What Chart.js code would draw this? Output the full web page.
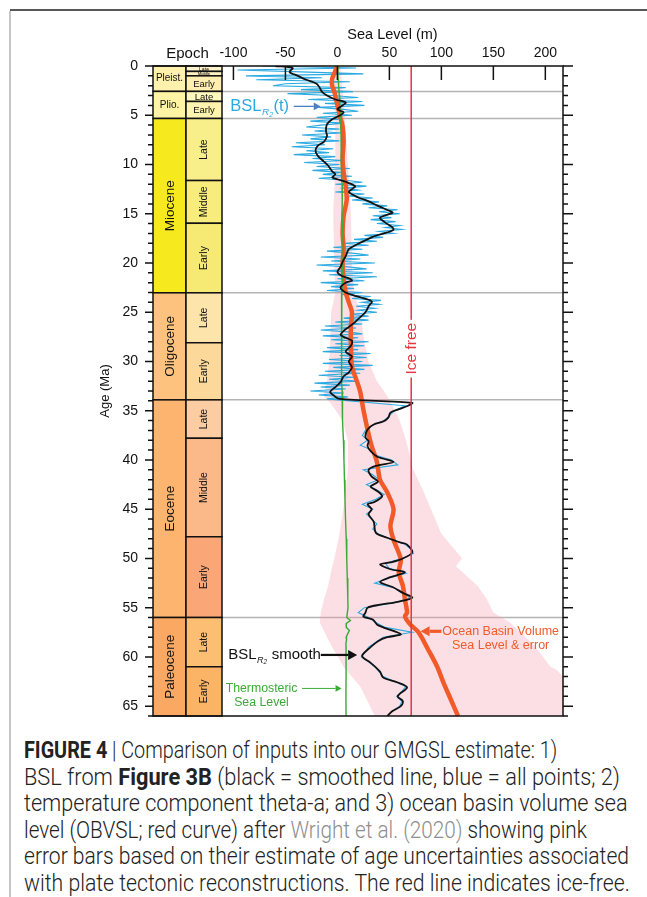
<!DOCTYPE html>
<html>
<head>
<meta charset="utf-8">
<title>Sea level inputs – Cenozoic</title>
<script src="https://cdn.jsdelivr.net/npm/chart.js@4.4.0/dist/chart.umd.min.js"></script>
<style>
  html, body { margin: 0; padding: 0; background: #fff; }
  body { width: 647px; height: 897px; position: relative; overflow: hidden; }
  #frameTop { position: absolute; left: 10px; top: 9px; width: 637px; height: 2px; background: #585858; }
  #frameLeft { position: absolute; left: 9px; top: 11px; width: 2px; height: 886px; background: #c6c6c6; }
  #chart { position: absolute; left: 0; top: 0; }
  #caption { position: absolute; left: 24px; top: 738px; font-family: Roboto, 'Liberation Sans', sans-serif;
             font-weight: 300; font-size: 23px; line-height: 26.6px; color: #222; }
  #caption div { white-space: nowrap; transform-origin: 0 50%; }
  #caption .l1 { transform: scaleX(0.86); }
  #caption .l2 { transform: scaleX(0.947); }
  #caption .l3 { transform: scaleX(0.939); }
  #caption .l4 { transform: scaleX(0.90); }
  #caption .l5 { transform: scaleX(0.915); }
  #caption .l6 { transform: scaleX(0.922); }
  #caption b { font-weight: 700; }
  #caption .ref { color: #8e8e8e; }
</style>
</head>
<body>
<div id="frameTop"></div>
<div id="frameLeft"></div>
<canvas id="chart" width="647" height="730"></canvas>
<div id="caption">
  <div class="l1"><b>FIGURE 4</b> | Comparison of inputs into our GMGSL estimate: 1)</div>
  <div class="l2">BSL from <b>Figure 3B</b> (black = smoothed line, blue = all points; 2)</div>
  <div class="l3">temperature component theta-a; and 3) ocean basin volume sea</div>
  <div class="l4">level (OBVSL; red curve) after <span class="ref">Wright et al. (2020)</span> showing pink</div>
  <div class="l5">error bars based on their estimate of age uncertainties associated</div>
  <div class="l6">with plate tectonic reconstructions. The red line indicates ice-free.</div>
</div>
<script>
// ---- axes ----
const AGE_MIN = 0, AGE_MAX = 66;
const SL_MIN = -111, SL_MAX = 217;
const seaLevelTicks = [-100, -50, 0, 50, 100, 150, 200];
const ageTicks = [0, 5, 10, 15, 20, 25, 30, 35, 40, 45, 50, 55, 60, 65];
const ICE_FREE = 71;

// ---- geologic time scale (Ma) ----
const epochNames = ['Pleist.', 'Plio.', 'Miocene', 'Oligocene', 'Eocene', 'Paleocene'];
const epochTop   = [0, 2.58, 5.33, 23.03, 33.9, 56];
const epochBase  = [2.58, 5.33, 23.03, 33.9, 56, 66];
const epochColors = ['#FEF1AE', '#FFF4A3', '#F6EA1E', '#FDC27E', '#FCB46E', '#FBA862'];
const stageNames = ['Late', 'Middle', 'Early', 'Late', 'Early', 'Late', 'Middle', 'Early',
                    'Late', 'Early', 'Late', 'Middle', 'Early', 'Late', 'Early'];
const stageTop   = [0, 0.55, 1.0, 2.58, 3.6, 5.33, 11.63, 15.97, 23.03, 28.1, 33.9, 37.8, 47.8, 56, 61];
const stageBase  = [0.55, 1.0, 2.58, 3.6, 5.33, 11.63, 15.97, 23.03, 28.1, 33.9, 37.8, 47.8, 56, 61, 66];
const stageColors = ['#FFF2CC', '#FFF1C2', '#FFEEB0', '#FFF8BE', '#FFF3B0', '#F8EF8A', '#F7EC7C', '#F6E974',
                     '#FDE4AB', '#FDD89B', '#FCCDA2', '#FBB98A', '#FAA676', '#FCBE72', '#FBB466'];
const epochBoundaries = [2.58, 5.33, 23.03, 33.9, 56];

// ---- BSL, all points (blue) ----
const blueAge = [
  0.0,0.2,0.4,0.6,0.8,1.0,1.2,1.4,1.6,1.8, 2.0,2.2,2.4,2.6,2.8,3.0,3.2,3.4,3.6,3.8,
  4.0,4.2,4.4,4.6,4.8,5.0,5.2,5.4,5.6,5.8, 6.0,6.2,6.4,6.6,6.8,7.0,7.2,7.4,7.6,7.8,
  8.0,8.2,8.4,8.6,8.8,9.0,9.2,9.4,9.6,9.8, 10.0,10.2,10.4,10.6,10.8,11.0,11.2,11.4,11.6,11.8,
  12.0,12.2,12.4,12.6,12.8,13.0,13.2,13.4,13.6,13.8, 14.0,14.2,14.4,14.6,14.8,15.0,15.2,15.4,15.6,15.8,
  16.0,16.2,16.4,16.6,16.8,17.0,17.2,17.4,17.6,17.8, 18.0,18.2,18.4,18.6,18.8,19.0,19.2,19.4,19.6,19.8,
  20.0,20.2,20.4,20.6,20.8,21.0,21.2,21.4,21.6,21.8, 22.0,22.2,22.4,22.6,22.8,23.0,23.2,23.4,23.6,23.8,
  24.0,24.2,24.4,24.6,24.8,25.0,25.2,25.4,25.6,25.8, 26.0,26.2,26.4,26.6,26.8,27.0,27.2,27.4,27.6,27.8,
  28.0,28.2,28.4,28.6,28.8,29.0,29.2,29.4,29.6,29.8, 30.0,30.2,30.4,30.6,30.8,31.0,31.2,31.4,31.6,31.8,
  32.0,32.2,32.4,32.6,32.8,33.0,33.2,33.4,33.6,33.8,
  34.5,35.0,35.5,36.0,36.5,37.0,37.5,38.0,38.5,39.0, 39.5,40.0,40.5,41.0,41.5,42.0,42.5,43.0,43.5,44.0,
  44.5,45.0,45.5,46.0,46.5,47.0,47.5,48.0,48.5,49.0, 49.5,50.0,50.5,51.0,51.5,52.0,52.5,53.0,53.5,54.0,
  54.5,55.0,55.5,56.0,56.5,57.0,57.5,58.0,58.5,59.0, 59.5,60.0,60.5,61.0,61.5,62.0,62.5,63.0,63.5,64.0,
  64.5,65.0,65.5,66.0
];
const blueSL = [
  -72,18,-96,-35,25,-88,-15,-78,12,-50, -62,8,-35,15,-48,-5,20,-28,24,-12,
  26,-18,6,20,-14,14,-20,3,-26,6, -16,-30,2,-22,4,-34,-6,-26,2,-40,
  -12,-44,-4,-30,-8,-42,-2,-24,6,-32, 2,-20,12,-24,4,-14,14,-18,8,24,
  -2,28,6,20,-2,26,10,34,14,40, 24,48,30,58,40,60,34,52,32,56,
  38,60,46,62,40,54,26,44,16,38, 6,30,-4,24,-10,14,30,-16,22,-6,
  36,-20,10,28,-14,34,-8,38,0,26, -16,20,-6,16,-10,24,4,32,14,42,
  24,40,18,36,20,38,12,30,6,30, -2,24,-12,18,-16,10,24,-14,20,-6,
  30,-2,26,-10,20,-14,32,2,28,-8, 24,-14,34,-4,26,-12,22,-18,16,-8,
  20,-22,12,-16,8,-26,6,-18,10,-10,
  65,55,50,45,33,27,24,29,22,33, 36,52,58,25,34,40,28,37,45,37,
  24,34,28,33,38,34,39,50,64,70, 73,62,46,50,66,49,36,55,62,70,
  55,26,20,30,37,46,72,44,37,30, 27,23,30,36,40,44,55,66,62,57,
  62,60,53,48
];

// ---- BSL smoothed (black) ----
const blackAge = [
  0,0.2,0.6,1.0,1.4,1.8,2.2,2.6,3.0,3.4, 3.7,4.0,4.4,4.7,5.1,5.4,5.9,6.6,7.1,7.7,
  8.1,8.6,9.1,9.7,10.1,10.7,11.0,11.3,11.5,11.8, 12.2,12.5,12.8,13.3,13.7,14.2,14.7,14.9,15.4,15.9,
  16.3,16.6,16.9,17.3,17.6,18.1,18.6,19.3,19.9,20.4, 20.9,21.3,21.6,21.8,22.0,22.5,23.0,23.4,23.9,24.4,
  25.0,25.5,26.0,26.5,26.9,27.3,27.6,27.9,28.4,29.0, 29.5,30.0,30.6,31.1,31.5,32.1,32.6,33.1,33.5,33.8,
  34.2,34.5,34.9,35.2,35.7,36.1,36.4,36.9,37.7,38.1, 38.6,39.1,39.7,40.2,40.6,41.0,41.7,42.2,42.7,43.2,
  43.7,44.3,44.5,45.0,45.5,46.3,47.4,47.9,48.4,48.6, 49.4,50.1,50.4,50.6,51.1,51.4,51.9,52.4,52.9,53.5,
  54.0,54.4,54.7,55.0,55.5,55.9,56.2,56.7,57.0,57.7, 58.0,58.4,59.0,59.8,60.1,60.6,61.5,62.1,62.6,63.1,
  64.0,64.5,65.0,65.5,66.0
];
const blackSL = [
  -60,-43,-46,-38,-30,-20,-17,-15,-10,-2, 8,5,0,6,1,-5,-10,-11,-10,-13,
  -19,-21,-19,-13,-9,-5,-2,-5,0,9, 17,14,11,19,29,39,50,53,41,46,
  52,54,48,35,29,19,11,8,5,3, 0,4,12,14,8,3,8,19,33,30,
  27,22,17,11,6,3,8,14,13,8, 14,11,14,11,6,3,-2,-7,-3,2,
  72,68,58,51,49,44,35,29,27,30, 29,32,39,54,37,30,33,39,32,39,
  43,35,29,33,30,35,37,48,61,67, 72,61,51,41,51,65,51,41,53,63,
  72,58,41,29,27,25,34,38,44,61, 48,39,32,24,25,32,41,44,58,67,
  58,63,61,53,48
];

// ---- thermosteric sea level (green) ----
const greenAge = [
  0,1,2,3,4,5,6,7,8,9, 10,11,12,13,14,15,16,17,18,19, 20,21,22,23,24,25,26,27,28,29,
  30,31,32,33,34, 36,38,40,42,44,46,48,50,52,54,
  55,56,56.3,56.6,57,57.3,58,58.3,58.6,59,60,62,64,66
];
const greenSL = [
  0,0.5,1.2,1.8,2.3,2.8,3.2,3.5,3.6,3.8, 4.0,4.2,4.5,4.7,4.6,4.4,4.8,5.2,5.4,5.6,
  5.3,4.9,4.6,4.3,4.0,3.8,3.9,4.0,3.9,4.1, 4.2,4.0,4.3,4.5,4.6,
  5.2,5.8,6.3,6.8,7.3,7.8,8.5,9.0,9.5,10.0,
  10.2,9.0,12.5,8.6,8.5,11.5,8.4,8.8,8.2,8.3,8.4,8.3,8.2,8.3
];

// ---- ocean basin volume sea level (red) and its error envelope ----
const redAge = [
  0,0.5,1.3,2.0,2.6,3.5,4.4,5.3,6.1,7.7, 9.4,10.8,12.2,13.5,14.2,15.2,16.9,18.6,20.0,21.6,
  23.0,24.0,25.0,26.4,28.4,30.5,32.1,33.1,34.9,36.9, 38.6,40.2,42.0,43.3,45.0,46.7,48.1,50.1,51.4,52.8,
  54.2,55.5,55.9,56.7,57.5,59.2,61.0,62.6,64.3,66.0
];
const redSL = [
  0,-2,-5,-5,-3,-1,1,3,5,6, 5,6,8,9,8,6,5,6,5,6,
  8,11,14,13,13,14,19,22,25,29, 33,38,41,48,54,51,54,61,59,63,
  65,67,65,70,78,87,96,102,109,116
];
const bandAge  = [0,5,10,15,20,23,25,28,30,32, 33.5,34.3,36,38,41,43,45.5,47.5,50,50.8, 52.8,54.2,55.5,56.5,58.2,59.2,61,61.3,63,66];
const bandLow  = [-3,-2,-2,-4,-3,-2,-6,-7,-8,-10, -13,-6,5,10,10,8,5,2,-3,-5, -9,-13,-16,-17,-9,-4,6,8,22,36];
const bandHigh = [3,7,10,13,14,16,22,26,30,38, 48,52,60,66,73,82,92,100,120,114, 135,144,150,166,183,192,205,211,225,245];

// ---- build point lists ----
const pts = (ages, vals) => ages.map((a, i) => ({ x: vals[i], y: a }));
const bandShape = pts(bandAge, bandLow).concat(pts(bandAge, bandHigh).reverse());
const iceFreeLine = [{ x: ICE_FREE, y: AGE_MIN }, { x: ICE_FREE, y: AGE_MAX }];

const FONT = "'Liberation Sans', Arial, Helvetica, sans-serif";
Chart.defaults.font.family = FONT;
Chart.defaults.color = '#111';

function arrow(ctx, x1, y1, x2, y2, color, lw, head) {
  const ang = Math.atan2(y2 - y1, x2 - x1);
  const bx = x2 - head * Math.cos(ang), by = y2 - head * Math.sin(ang);
  ctx.strokeStyle = color; ctx.fillStyle = color; ctx.lineWidth = lw;
  ctx.beginPath(); ctx.moveTo(x1, y1); ctx.lineTo(bx, by); ctx.stroke();
  const w = head * 0.55;
  ctx.beginPath();
  ctx.moveTo(x2, y2);
  ctx.lineTo(bx - w * Math.sin(ang), by + w * Math.cos(ang));
  ctx.lineTo(bx + w * Math.sin(ang), by - w * Math.cos(ang));
  ctx.closePath(); ctx.fill();
}

// BSL with italic R2 subscript, left-aligned at (px, py)
function bslLabel(ctx, px, py, size, color, tail) {
  ctx.fillStyle = color; ctx.textBaseline = 'middle'; ctx.textAlign = 'left';
  ctx.font = size + 'px ' + FONT;
  ctx.fillText('BSL', px, py);
  let cx = px + ctx.measureText('BSL').width + 0.5;
  ctx.font = 'italic ' + (size * 0.6) + 'px ' + FONT;
  ctx.fillText('R', cx, py + size * 0.38);
  const rw = ctx.measureText('R').width;
  ctx.font = 'italic ' + (size * 0.42) + 'px ' + FONT;
  ctx.fillText('2', cx + rw, py + size * 0.5);
  cx += rw + ctx.measureText('2').width + 0.5;
  ctx.font = size + 'px ' + FONT;
  ctx.fillText(tail, cx, py);
  return cx + ctx.measureText(tail).width;
}

const geoPlugin = {
  id: 'geoColumn',
  beforeDatasetsDraw(chart) {
    const { ctx, chartArea: a, scales: { y } } = chart;
    ctx.save();
    ctx.strokeStyle = '#b4b4b4'; ctx.lineWidth = 1.5;
    epochBoundaries.forEach(b => {
      const py = y.getPixelForValue(b);
      ctx.beginPath(); ctx.moveTo(a.left, py); ctx.lineTo(a.right, py); ctx.stroke();
    });
    ctx.restore();
  },
  afterDraw(chart) {
    const { ctx, chartArea: a, scales: { x, y, ts } } = chart;
    const c0 = ts.left, c2 = ts.right, c1 = c0 + 33;
    ctx.save();

    // epoch column
    ctx.lineWidth = 1.5; ctx.strokeStyle = '#111';
    epochNames.forEach((name, i) => {
      const t = y.getPixelForValue(epochTop[i]), b = y.getPixelForValue(epochBase[i]);
      ctx.fillStyle = epochColors[i];
      ctx.fillRect(c0, t, c1 - c0, b - t);
      ctx.strokeRect(c0, t, c1 - c0, b - t);
      ctx.fillStyle = '#111'; ctx.textAlign = 'center'; ctx.textBaseline = 'middle';
      if (i < 2) {
        ctx.font = '10px ' + FONT;
        ctx.fillText(name, (c0 + c1) / 2, (t + b) / 2);
      } else {
        ctx.save();
        ctx.translate((c0 + c1) / 2 + 0.5, (t + b) / 2);
        ctx.rotate(-Math.PI / 2);
        ctx.font = '13.5px ' + FONT;
        ctx.fillText(name, 0, 0);
        ctx.restore();
      }
    });

    // stage column
    stageNames.forEach((name, i) => {
      const t = y.getPixelForValue(stageTop[i]), b = y.getPixelForValue(stageBase[i]);
      ctx.fillStyle = stageColors[i];
      ctx.fillRect(c1, t, c2 - c1, b - t);
      ctx.strokeRect(c1, t, c2 - c1, b - t);
      ctx.fillStyle = '#111'; ctx.textAlign = 'center'; ctx.textBaseline = 'middle';
      if (i < 5) {
        const fs = Math.min(9.5, (b - t) * 0.95);
        ctx.font = fs + 'px ' + FONT;
        ctx.fillText(name, (c1 + c2) / 2, (t + b) / 2 + 0.5);
      } else {
        ctx.save();
        ctx.translate((c1 + c2) / 2 + 0.5, (t + b) / 2);
        ctx.rotate(-Math.PI / 2);
        ctx.font = '10.5px ' + FONT;
        ctx.fillText(name, 0, 0);
        ctx.restore();
      }
    });

    // plot frame
    ctx.strokeStyle = '#111'; ctx.lineWidth = 1.5;
    ctx.beginPath();
    ctx.moveTo(c0, a.top); ctx.lineTo(a.right, a.top);
    ctx.lineTo(a.right, a.bottom); ctx.lineTo(c0, a.bottom);
    ctx.stroke();

    // age ticks (outward on both sides, 1 Ma minor / 5 Ma major)
    for (let v = AGE_MIN; v <= AGE_MAX; v++) {
      const py = y.getPixelForValue(v);
      const major = v % 5 === 0;
      ctx.beginPath();
      ctx.moveTo(c0, py); ctx.lineTo(c0 - (major ? 8 : 5), py);
      ctx.moveTo(a.right, py); ctx.lineTo(a.right + (major ? 10 : 5), py);
      ctx.stroke();
    }
    // sea-level ticks (inward)
    seaLevelTicks.forEach(v => {
      const px = x.getPixelForValue(v);
      ctx.beginPath(); ctx.moveTo(px, a.top); ctx.lineTo(px, a.top + 14); ctx.stroke();
    });

    // column header
    ctx.fillStyle = '#111'; ctx.textAlign = 'center'; ctx.textBaseline = 'middle';
    ctx.font = '15px ' + FONT;
    ctx.fillText('Epoch', (c0 + c2) / 2, a.top - 12);

    // ice-free label on the red line
    ctx.save();
    ctx.translate(x.getPixelForValue(ICE_FREE), y.getPixelForValue(28.7));
    ctx.rotate(-Math.PI / 2);
    ctx.font = '15.5px ' + FONT;
    const iw = ctx.measureText('Ice free').width;
    ctx.fillStyle = '#fff';
    ctx.fillRect(-iw / 2 - 3, -9, iw + 6, 17);
    ctx.fillStyle = '#E8343F';
    ctx.fillText('Ice free', 0, 0.5);
    ctx.restore();

    // BSL(t) label
    const by1 = y.getPixelForValue(4.1);
    bslLabel(ctx, x.getPixelForValue(-103), by1, 16.5, '#29A9E0', '(t)');
    arrow(ctx, x.getPixelForValue(-42), by1, x.getPixelForValue(-16), by1, '#4C7EC2', 1.3, 7);

    // BSL smooth label
    const by2 = y.getPixelForValue(59.8);
    bslLabel(ctx, x.getPixelForValue(-105), by2, 15, '#111', ' smooth');
    arrow(ctx, x.getPixelForValue(-16), by2, x.getPixelForValue(19), by2, '#111', 2.2, 9);

    // thermosteric label
    ctx.fillStyle = '#3AAA35'; ctx.textAlign = 'center'; ctx.textBaseline = 'middle';
    ctx.font = '12.3px ' + FONT;
    ctx.fillText('Thermosteric', x.getPixelForValue(-73), y.getPixelForValue(63.2));
    ctx.fillText('Sea Level', x.getPixelForValue(-73), y.getPixelForValue(64.6));
    arrow(ctx, x.getPixelForValue(-34), y.getPixelForValue(63.2), x.getPixelForValue(4), y.getPixelForValue(63.2), '#3AAA35', 1, 6);

    // ocean basin volume label
    ctx.fillStyle = '#F15A29'; ctx.textAlign = 'center';
    ctx.font = '12.5px ' + FONT;
    ctx.fillText('Ocean Basin Volume', x.getPixelForValue(157), y.getPixelForValue(57.4));
    ctx.fillText('Sea Level & error', x.getPixelForValue(157), y.getPixelForValue(58.8));
    arrow(ctx, x.getPixelForValue(100), y.getPixelForValue(57.4), x.getPixelForValue(80), y.getPixelForValue(57.4), '#F15A29', 3.2, 9);

    ctx.restore();
  }
};

// vertical scales: no extra label padding, the plot runs edge to edge
const noEdgePadding = s => { s.paddingTop = 0; s.paddingBottom = 0; };

new Chart(document.getElementById('chart'), {
  type: 'scatter',
  data: {
    datasets: [
      { label: 'Ice free', data: iceFreeLine, showLine: true, borderColor: '#E8343F', borderWidth: 1.5,
        pointRadius: 0, order: 1, yAxisID: 'y' },
      { label: 'BSL smooth', data: pts(blackAge, blackSL), showLine: true, borderColor: '#111', borderWidth: 1.8,
        tension: 0.3, pointRadius: 0, order: 2, yAxisID: 'y' },
      { label: 'Thermosteric sea level', data: pts(greenAge, greenSL), showLine: true, borderColor: '#3AAA35',
        borderWidth: 1.4, pointRadius: 0, order: 3, yAxisID: 'y' },
      { label: 'OBVSL', data: pts(redAge, redSL), showLine: true, borderColor: '#F15A29', borderWidth: 4.5,
        tension: 0.3, pointRadius: 0, order: 4, yAxisID: 'y' },
      { label: 'BSL all points', data: pts(blueAge, blueSL), showLine: true, borderColor: '#2BAAE2',
        borderWidth: 1.1, pointRadius: 0, order: 5, yAxisID: 'y' },
      { label: 'OBVSL error', data: bandShape, showLine: true, fill: 'shape', borderWidth: 0,
        borderColor: 'rgba(0,0,0,0)', backgroundColor: 'rgba(246,150,170,0.3)', pointRadius: 0, order: 6, yAxisID: 'y' }
    ]
  },
  options: {
    responsive: false,
    animation: false,
    devicePixelRatio: 1,
    layout: { padding: { left: 98, top: 26.5, right: 84, bottom: 14 } },
    plugins: { legend: { display: false }, tooltip: { enabled: false } },
    scales: {
      x: {
        type: 'linear', position: 'top', min: SL_MIN, max: SL_MAX,
        afterBuildTicks: s => { s.ticks = seaLevelTicks.map(v => ({ value: v })); },
        afterFit: s => { s.height = 39.5; },
        ticks: { font: { size: 14 }, color: '#111', padding: 4, maxRotation: 0, autoSkip: false },
        grid: { display: false, drawTicks: false },
        border: { display: false },
        title: { display: true, text: 'Sea Level (m)', font: { size: 14.5 }, color: '#111', padding: 0 }
      },
      y: {
        type: 'linear', position: 'left', reverse: true, min: AGE_MIN, max: AGE_MAX, weight: 2,
        afterBuildTicks: s => { s.ticks = ageTicks.map(v => ({ value: v })); },
        afterFit: s => { s.width = 55; noEdgePadding(s); },
        ticks: { font: { size: 14 }, color: '#111', padding: 15, autoSkip: false, crossAlign: 'near' },
        grid: { display: false, drawTicks: false },
        border: { display: false },
        title: { display: true, text: 'Age (Ma)', font: { size: 13 }, color: '#111', padding: 0 }
      },
      ts: {
        type: 'linear', position: 'left', reverse: true, min: AGE_MIN, max: AGE_MAX, weight: 1,
        afterFit: s => { s.width = 69; noEdgePadding(s); },
        ticks: { display: false },
        grid: { display: false, drawTicks: false },
        border: { display: false }
      }
    }
  },
  plugins: [geoPlugin]
});
</script>
</body>
</html>
